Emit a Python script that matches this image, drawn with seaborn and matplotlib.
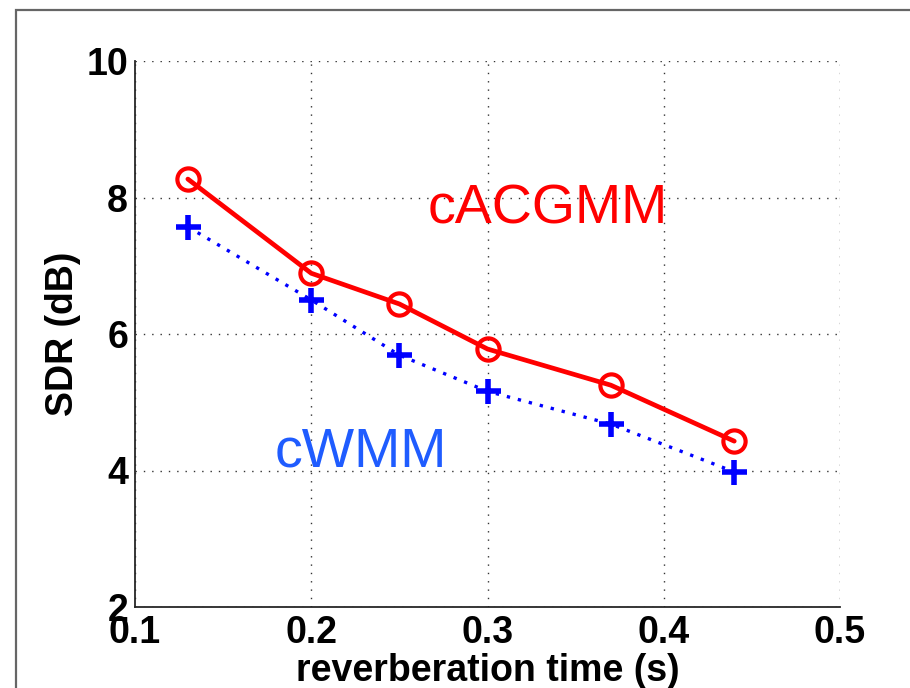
import pandas as pd
import matplotlib
matplotlib.use("Agg")
import matplotlib.pyplot as plt
import seaborn as sns
from matplotlib.patches import Rectangle

# reverberation times and SDR values
t60 = [0.13, 0.20, 0.25, 0.30, 0.37, 0.44]
sdr_cacgmm = [8.27, 6.89, 6.44, 5.78, 5.25, 4.43]
sdr_cwmm = [7.57, 6.50, 5.69, 5.16, 4.68, 3.98]

x_ticks = [0.1, 0.2, 0.3, 0.4, 0.5]
x_tick_labels = ["0.1", "0.2", "0.3", "0.4", "0.5"]
y_ticks = [2, 4, 6, 8, 10]

sns.set_style("white")
plt.rcParams["font.family"] = ["Liberation Sans", "DejaVu Sans"]

df = pd.DataFrame({"t60": t60, "cACGMM": sdr_cacgmm, "cWMM": sdr_cwmm})

fig = plt.figure(figsize=(9.1, 6.88), dpi=100)
ax = fig.add_axes([135 / 910, 1 - 607 / 688, 705 / 910, 546 / 688])

sns.lineplot(data=df, x="t60", y="cWMM", ax=ax, color="#0000ff", linewidth=2.4,
             linestyle=(0, (1, 2.4)), marker="+", markersize=18,
             markeredgecolor="#0000ff", markeredgewidth=4, zorder=3)
sns.lineplot(data=df, x="t60", y="cACGMM", ax=ax, color="#ff0000", linewidth=3.4,
             marker="o", markersize=16, markerfacecolor="none",
             markeredgecolor="#ff0000", markeredgewidth=3, zorder=4)

ax.text(0.334, 7.82, "cACGMM", color="#ff0000", fontsize=40,
        ha="center", va="center")
ax.text(0.228, 4.27, "cWMM", color="#1f5cff", fontsize=40,
        ha="center", va="center")

ax.set_xlim(0.1, 0.5)
ax.set_ylim(2, 10)
ax.set_xticks(x_ticks)
ax.set_xticklabels(x_tick_labels)
ax.set_yticks(y_ticks)

ax.grid(True, color="0.2", linestyle=(0, (1, 5)), linewidth=1)
for side in ["top", "right"]:
    ax.spines[side].set_visible(False)
for side in ["left", "bottom"]:
    ax.spines[side].set_color("0.15")
    ax.spines[side].set_linewidth(1.3)

ax.tick_params(axis="both", direction="in", length=5, width=1.2,
               labelsize=27, colors="black")
ax.tick_params(axis="x", pad=6)
ax.tick_params(axis="y", pad=5)
for lab in ax.get_xticklabels() + ax.get_yticklabels():
    lab.set_fontweight("bold")

ax.set_xlabel("reverberation time (s)", fontsize=27, fontweight="bold",
              labelpad=1, color="black")
ax.set_ylabel("SDR (dB)", fontsize=27, fontweight="bold", labelpad=4,
              color="black")

# grey frame around the figure (cropped at right/bottom)
fig.patches.append(Rectangle((16 / 910, -0.2), 1.2, 0.2 + (1 - 9.5 / 688),
                             transform=fig.transFigure, fill=False,
                             edgecolor="0.4", linewidth=1.6, clip_on=False))

fig.savefig("out.png", dpi=100)
